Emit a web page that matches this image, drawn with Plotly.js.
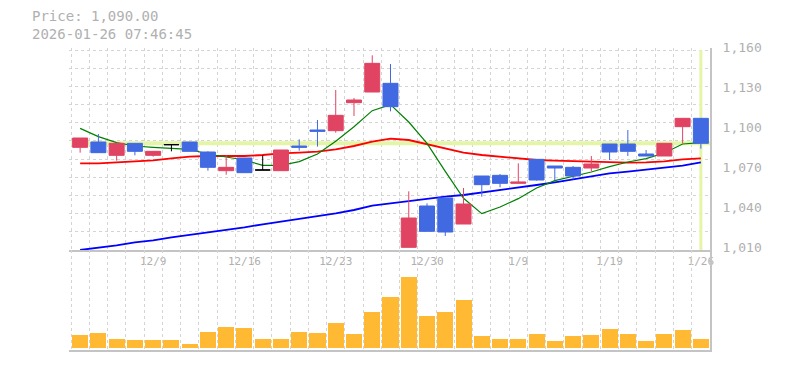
<!DOCTYPE html>
<html>
<head>
<meta charset="utf-8">
<script src="https://cdn.plot.ly/plotly-3.0.1.min.js"></script>
<style>
html,body{margin:0;padding:0;background:#ffffff;}
#chart{width:785px;height:370px;}
</style>
</head>
<body>
<div id="chart"></div>
<script>
// ---- data ----
const dates = ["12/3","12/4","12/5","12/8","12/9","12/10","12/11","12/12","12/15","12/16",
  "12/17","12/18","12/19","12/22","12/23","12/24","12/25","12/26","12/29","12/30",
  "1/5","1/6","1/7","1/8","1/9","1/13","1/14","1/15","1/16","1/19",
  "1/20","1/21","1/22","1/23","1/26"];
const opens  = [1087,1091,1081,1090,1081,1089,1091,1083.5,1069.5,1079,
  1070,1069.5,1088,1100,1099.5,1120.5,1128.5,1135,1012,1043,
  1049,1029.5,1065.5,1066,1060,1078,1073,1072,1071.5,1089.5,
  1089.5,1082,1080.5,1102.5,1108.75];
const highs  = [1094,1097,1090,1090,1084,1089,1091,1084,1081,1079,
  1081,1085,1093,1107.5,1130,1124,1156,1149.5,1054,1045,
  1049,1056.5,1065.5,1067,1075,1078,1073,1073,1080.5,1089.5,
  1100,1085,1090,1108.75,1108.75];
const lows   = [1083,1083,1077,1081,1080,1084,1084,1069.5,1066.5,1068,
  1070,1069.5,1084.5,1087.5,1098,1110.5,1128.5,1114,1012,1024,
  1020.5,1029.5,1050,1057,1060,1062,1062.5,1063,1069,1077.5,
  1080.5,1080.5,1080.5,1090,1086];
const closes = [1094,1083,1090,1084,1084,1089,1084,1072,1072,1068,
  1070,1085,1087,1099,1111,1122.5,1150,1117.5,1034,1024,
  1023.5,1044.5,1059,1060,1061,1062.5,1071.5,1065.5,1074.5,1083.5,
  1084,1080.5,1090,1108.75,1090];
const ma5  = [1101.25,1095,1090.5,1088,1087,1086.5,1085.5,1082,1080,1077.5,
  1073.5,1073.5,1076.25,1082,1091.5,1102.5,1114.5,1119,1106,1090,
  1069,1048.75,1037.25,1042.25,1048.5,1056.5,1062,1065,1068.5,1072.5,
  1076,1078.5,1082.75,1089.5,1090.5];
const ma25 = [1075,1075,1075.75,1076.5,1077.25,1078.75,1080,1080.5,1080.5,1080.5,
  1081.25,1082.5,1083,1083.75,1085.5,1088,1091.25,1093.5,1092.5,1089.5,
  1086.25,1083,1081.25,1080,1078.75,1077.5,1077,1076.5,1076,1075.5,
  1075.5,1075.75,1076.5,1078,1078.75];
const ma75 = [1010,1011.5,1013.5,1015.75,1017.25,1019.5,1021.25,1023,1025,1027,
  1029.25,1031.25,1033,1035,1037.5,1040,1043.25,1045,1046.75,1048.5,
  1050,1051.25,1053,1055,1057,1058.75,1060.75,1063,1065.25,1067.5,
  1068.75,1070,1071.75,1073.25,1075.75];
const volumes = [13000,15000,9000,8000,8000,8000,4000,16000,21000,20000,
  9000,9000,16000,15000,25000,14000,36000,51000,71000,32000,
  36000,48000,12000,9000,9000,14000,7000,12000,13000,19000,
  14000,7000,14000,18000,9000];
const xTickLabels = ["12/9","12/16","12/23","12/30","1/9","1/19","1/26"];
const yTickValues = [1010,1040,1070,1100,1130,1160];
const headerPrice = "Price: 1,090.00";
const headerTime  = "2026-01-26 07:46:45";

// ---- styling / layout ----
const RED = "#e04462", BLUE = "#4169e1", DOJI = "#000000";
const GRID = "#d4d4d4", AXIS = "#c4c4c4", TXT = "#b0b0b0";
const MONO = "DejaVu Sans Mono, monospace";

const W = 785, H = 370;
const mL = 69, mR = 75, mT = 48, mB = 20;
const plotW = W - mL - mR, plotH = H - mT - mB;
const n = dates.length;
const slot = (plotW - 2) / n;
const xRange = [-0.5 - 2 / slot, n - 0.5];
const pricePx = 202, volPx = 100;
const pricePerPx = (yTickValues[yTickValues.length-1] - yTickValues[0]) / 200;
const priceRange = [yTickValues[0], yTickValues[0] + pricePx * pricePerPx];
const volDomainTop = volPx / plotH;

const idx = dates.map((_, i) => i);
const boundaries = idx.map(i => i - 0.5).concat([n - 0.5]);
const hGrid = [];
for (let k = 0; k <= 11; k++) hGrid.push(yTickValues[0] + k * 150 / 11);
const tickIdx = xTickLabels.map(l => dates.indexOf(l));

function candleSet(test, color) {
  const ii = idx.filter(i => test(opens[i], closes[i]));
  const side = {line: {color: color, width: 1}, fillcolor: color};
  return {
    type: "candlestick", xaxis: "x", yaxis: "y3",
    x: ii, open: ii.map(i => opens[i]), high: ii.map(i => highs[i]),
    low: ii.map(i => lows[i]), close: ii.map(i => closes[i]),
    increasing: side, decreasing: side, whiskerwidth: 0,
    hoverinfo: "none", showlegend: false
  };
}

function maLine(vals, color, width) {
  return {type: "scatter", mode: "lines", x: idx, y: vals, xaxis: "x", yaxis: "y",
    line: {color: color, width: width}, hoverinfo: "skip", showlegend: false};
}

const traces = [
  maLine(ma75, "#0000ff", 1.8),
  maLine(ma25, "#ff0000", 1.8),
  maLine(ma5, "#008000", 1.2),
  candleSet((o, c) => c > o, RED),
  candleSet((o, c) => c < o, BLUE),
  candleSet((o, c) => c === o, DOJI),
  {type: "bar", x: idx, y: volumes, xaxis: "x2", yaxis: "y2",
   marker: {color: "#ffb933", line: {width: 0}}, width: 0.88,
   hoverinfo: "skip", showlegend: false}
];

const minorGrid = {tickmode: "array", tickvals: boundaries, showgrid: true,
  gridcolor: GRID, griddash: "3px,3px", gridwidth: 1, ticks: ""};

const last = n - 1;
const layout = {
  width: W, height: H,
  margin: {l: mL, r: mR, t: mT, b: mB, pad: 0},
  paper_bgcolor: "#ffffff", plot_bgcolor: "#ffffff",
  showlegend: false, boxgap: 0.18, boxgroupgap: 0, bargap: 0,
  xaxis: {
    domain: [0, 1], anchor: "y", range: xRange, type: "linear",
    tickmode: "array", tickvals: tickIdx, ticktext: xTickLabels,
    showgrid: false, zeroline: false, showline: true, linecolor: AXIS, linewidth: 1.5,
    ticks: "", tickfont: {family: MONO, size: 11, color: TXT},
    minor: minorGrid, rangeslider: {visible: false}, fixedrange: true
  },
  xaxis2: {
    domain: [0, 1], anchor: "y2", range: xRange, type: "linear",
    showticklabels: false, ticks: "", showgrid: false, zeroline: false,
    showline: true, linecolor: AXIS, linewidth: 2,
    tickmode: "array", tickvals: tickIdx,
    minor: minorGrid, fixedrange: true
  },
  yaxis: {
    domain: [volDomainTop, 1], anchor: "x", range: priceRange, side: "right",
    tickmode: "array", tickvals: hGrid, showticklabels: false, ticks: "",
    showgrid: true, gridcolor: GRID, griddash: "3px,3px", gridwidth: 1,
    zeroline: false, showline: false, fixedrange: true
  },
  yaxis3: {
    overlaying: "y", matches: "y", anchor: "x", side: "right",
    tickmode: "array", tickvals: yTickValues, tickformat: ",d",
    showgrid: false, zeroline: false, showline: true, linecolor: AXIS, linewidth: 2,
    ticks: "outside", ticklen: 8, tickcolor: "rgba(0,0,0,0)",
    ticklabelshift: -3,
    tickfont: {family: MONO, size: 13, color: TXT}, fixedrange: true
  },
  yaxis2: {
    domain: [0, volDomainTop], anchor: "x2", range: [-2000, 98000], side: "right",
    showticklabels: false, ticks: "", showgrid: false, zeroline: false,
    showline: true, linecolor: AXIS, linewidth: 2, fixedrange: true
  },
  shapes: [
    {type: "line", xref: "x", yref: "y", layer: "between",
     x0: -0.5, x1: n - 0.5, y0: closes[last], y1: closes[last],
     line: {color: "#e4f5a6", width: 4}},
    {type: "line", xref: "x", yref: "y", layer: "between",
     x0: last, x1: last, y0: yTickValues[0], y1: yTickValues[yTickValues.length-1],
     line: {color: "#e4f5a6", width: 3}}
  ],
  annotations: [
    {text: headerPrice + "<br>" + headerTime, xref: "paper", yref: "paper",
     x: (30 - mL) / plotW, y: (H - mB - 25) / plotH, xanchor: "left", yanchor: "middle",
     align: "left", showarrow: false, font: {family: MONO, size: 14, color: TXT}}
  ]
};

Plotly.newPlot("chart", traces, layout, {displayModeBar: false, staticPlot: true});
</script>
</body>
</html>
